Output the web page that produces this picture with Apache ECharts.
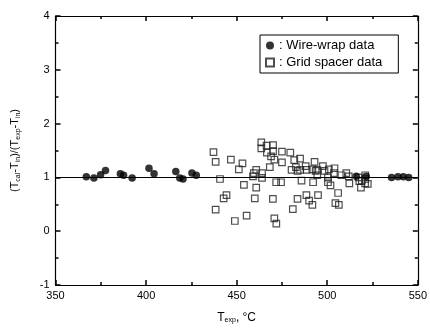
<!DOCTYPE html>
<html><head><meta charset="utf-8">
<script src="https://cdn.jsdelivr.net/npm/echarts@6/dist/echarts.min.js"></script>
<style>html,body{margin:0;padding:0;background:#fff}#c{width:430px;height:329px}</style>
</head><body><div id="c"></div>
<script>
// Wire-wrap data (filled circles): [T_exp, ratio]
const wireWrap = [
 [367.0,1.01],[371.2,0.99],[374.9,1.05],[377.6,1.13],[385.8,1.07],[387.6,1.04],[392.3,0.99],
 [401.6,1.17],[404.4,1.07],[416.4,1.11],[418.6,0.99],[420.4,0.97],[425.3,1.08],[427.7,1.04],
 [516.0,1.02],[521.5,1.02],[535.5,1.00],[539.0,1.01],[542.0,1.01],[545.0,1.00]
];
// Grid spacer data (open squares)
const gridSpacer = [
 [437.2,1.47],[438.4,1.29],[446.8,1.33],[453.2,1.26],[451.2,1.15],[440.8,0.97],[454.0,0.86],
 [444.4,0.67],[442.8,0.61],[438.4,0.40],[449.0,0.19],[455.5,0.29],[460.8,1.14],[459.5,1.08],
 [464.0,1.08],[464.0,0.99],[459.0,1.02],[460.8,0.81],[460.0,0.61],[470.0,0.60],[463.6,1.65],
 [463.6,1.54],[466.5,1.59],[470.1,1.60],[470.1,1.49],[466.7,1.46],[469.0,1.39],[470.8,1.33],
 [468.3,1.19],[475.0,1.48],[475.0,1.28],[479.6,1.46],[481.8,1.32],[480.3,1.14],[471.8,0.91],
 [474.5,0.91],[470.8,0.24],[471.9,0.14],[483.6,0.60],[481.0,0.41],[482.7,1.19],[485.0,1.35],
 [485.0,1.14],[488.1,1.21],[488.7,1.14],[493.0,1.29],[491.8,1.15],[493.6,1.12],[497.6,1.21],
 [498.5,1.12],[500.9,1.15],[504.0,1.17],[503.7,1.08],[494.5,1.04],[500.4,1.00],[507.8,1.04],
 [510.5,1.08],[511.9,1.02],[485.8,0.94],[492.2,0.91],[500.4,0.91],[501.8,0.85],[512.2,0.89],
 [518.6,0.81],[520.9,0.89],[506.0,0.71],[494.9,0.67],[488.5,0.67],[490.0,0.57],[491.8,0.49],
 [504.5,0.52],[506.4,0.49],[517.7,0.93],[522.4,0.88],[521.0,0.97],[517.3,1.00],[519.1,0.94],
 [521.0,1.04],[483.6,1.12],[494.5,1.14]
];
const xMin = 350, xMax = 550, xStep = 50;
const yMin = -1, yMax = 4, yStep = 1;
const refLine = 1;

const FONT = 'Liberation Sans, Arial, sans-serif';
const chart = echarts.init(document.getElementById('c'), null, {renderer:'canvas'});
function axisCommon(){
  return {
    axisLine:{show:true, onZero:false, lineStyle:{color:'#000', width:1.2}},
    axisTick:{show:true, inside:true, length:5, lineStyle:{color:'#000', width:1.5}},
    minorTick:{show:true, splitNumber:2, length:3, lineStyle:{color:'#000', width:1.5}},
    splitLine:{show:false}, minorSplitLine:{show:false}
  };
}
chart.setOption({
  animation:false,
  backgroundColor:'#fff',
  textStyle:{fontFamily:FONT},
  grid:{left:55.5, right:8.5, top:16, bottom:43},
  legend:{
    show:true, orient:'vertical', left:260, top:35,
    itemWidth:8, itemHeight:8, itemGap:4,
    padding:[4,16,4,5],
    borderColor:'#000', borderWidth:1, backgroundColor:'#fff',
    textStyle:{fontFamily:FONT, fontSize:13, color:'#000'},
    data:[
      {name:': Wire-wrap data', icon:'circle'},
      {name:': Grid spacer data', icon:'rect'}
    ]
  },
  xAxis:[
    Object.assign({type:'value', min:xMin, max:xMax, interval:xStep, position:'bottom',
      name:'T{sub|exp}, °C', nameLocation:'middle', nameGap:26,
      nameTextStyle:{fontFamily:FONT, fontSize:12, color:'#000',
        rich:{sub:{fontSize:7, verticalAlign:'bottom', padding:[6,0,0,0], fontFamily:FONT}}},
      axisLabel:{show:true, color:'#000', fontSize:11, margin:5, fontFamily:FONT}}, axisCommon()),
    Object.assign({type:'value', min:xMin, max:xMax, interval:xStep, position:'top',
      axisLabel:{show:false}}, axisCommon())
  ],
  yAxis:[
    Object.assign({type:'value', min:yMin, max:yMax, interval:yStep, position:'left',
      name:'(T{sub|cal}-T{sub|in})/(T{sub|exp}-T{sub|in})', nameLocation:'middle', nameGap:34, nameRotate:90,
      nameTextStyle:{fontFamily:FONT, fontSize:11, color:'#000',
        rich:{sub:{fontSize:7, verticalAlign:'bottom', padding:[6,0,0,0], fontFamily:FONT}}},
      axisLabel:{show:true, color:'#000', fontSize:11, margin:6, fontFamily:FONT}}, axisCommon()),
    Object.assign({type:'value', min:yMin, max:yMax, interval:yStep, position:'right',
      axisLabel:{show:false}}, axisCommon())
  ],
  series:[
    {name:': Grid spacer data', type:'scatter', data:gridSpacer, symbol:'rect', symbolSize:6.5,
      itemStyle:{color:'rgba(255,255,255,0)', borderColor:'#222', borderWidth:1.2},
      markLine:{silent:true, symbol:'none', label:{show:false},
        lineStyle:{color:'#000', width:1, type:'solid'}, data:[{yAxis:refLine}]},
      z:3},
    {name:': Wire-wrap data', type:'scatter', data:wireWrap, symbol:'circle', symbolSize:7.5,
      itemStyle:{color:'#000'}, z:4}
  ]
});
</script></body></html>
